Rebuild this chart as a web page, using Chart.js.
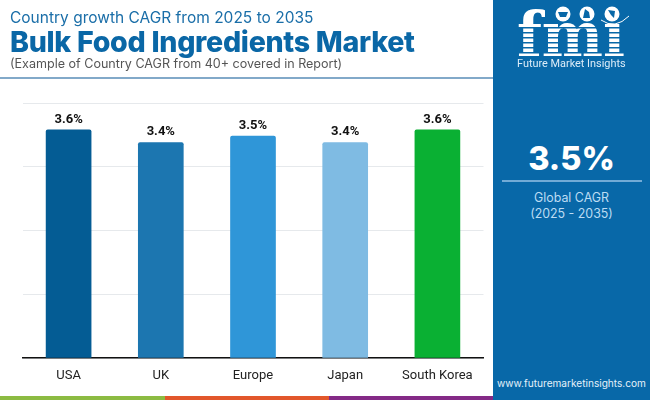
<!DOCTYPE html>
<html>
<head>
<meta charset="utf-8">
<title>Bulk Food Ingredients Market</title>
<script src="https://cdn.jsdelivr.net/npm/chart.js@4"></script>
<style>
  html, body { margin: 0; padding: 0; background: #fff; }
  #page { position: relative; width: 650px; height: 400px; overflow: hidden; background: #fff; }
  #page div { position: absolute; white-space: nowrap; }
  #myChart { position: absolute; left: 0; top: 0; }
  .head { font-family: Inter, "Open Sans", sans-serif; left: 10px; }
  #kicker { top: 8px; font-size: 15.5px; color: #1a6ea8; }
  #title { top: 24px; font-size: 28.6px; font-weight: 800; color: #0a67a6; letter-spacing: -0.3px; }
  #note { top: 56px; font-size: 12.55px; color: #555; }
  #rule { left: 0; top: 77px; width: 493px; height: 2px; background: #82a9c9; }
  #panel { left: 493px; top: 0; width: 157px; height: 400px; background: #0868a8; }
  #cagr { left: 493px; width: 143px; padding-left: 0; top: 139px; text-align: center; font-family: Inter, sans-serif; font-size: 32.5px; font-weight: 800; color: #fff; }
  #cagrRule { left: 502px; top: 180px; width: 140px; height: 2px; background: #72abd6; }
  .sub { left: 493px; width: 157px; text-align: center; font-family: Inter, sans-serif; font-size: 12.4px; color: #bcdcf3; }
  #site { left: 493px; width: 157px; top: 377px; text-align: center; font-family: Inter, sans-serif; font-size: 10.1px; color: #e4f1fa; }
  #brand { left: 517px; width: 108px; top: 57px; text-align: center; font-family: Roboto, sans-serif; font-size: 10.9px; color: #dcecf8; }
  .strip { top: 396px; height: 4px; }
</style>
</head>
<body>
<div id="page">
  <canvas id="myChart" width="493" height="396"></canvas>
  <div id="kicker" class="head">Country growth CAGR from 2025 to 2035</div>
  <div id="title" class="head">Bulk Food Ingredients Market</div>
  <div id="note" class="head">(Example of Country CAGR from 40+ covered in Report)</div>
  <div id="rule"></div>
  <div class="strip" style="left:0;width:165px;background:#8cbb42"></div>
  <div class="strip" style="left:165px;width:164px;background:#e2572b"></div>
  <div class="strip" style="left:329px;width:164px;background:#842a86"></div>
  <div id="panel"></div>
  <svg style="position:absolute;left:493px;top:0" width="157" height="60" viewBox="0 0 157 60">
    <text x="78" y="56" text-anchor="middle" font-family="DejaVu Serif" font-weight="bold" font-size="62" fill="#fff" textLength="108" lengthAdjust="spacingAndGlyphs">fmi</text>
    <g fill="#0868a8">
      <rect x="20" y="27" width="118" height="1.5"/>
      <rect x="20" y="32" width="118" height="1.5"/>
      <rect x="20" y="37" width="118" height="1.5"/>
      <rect x="20" y="42" width="118" height="1.5"/>
      <rect x="20" y="47" width="118" height="1.5"/>
      <rect x="20" y="52" width="118" height="1.5"/>
      <rect x="100" y="4" width="34" height="20"/>
    </g>
    <circle cx="70" cy="14" r="7.5" fill="#fff"/>
    <circle cx="94" cy="14" r="7.5" fill="#fff"/>
    <circle cx="119" cy="14" r="7.5" fill="#fff"/>
    <path d="M65 12h10l-2 5h-6zM92 9l4 3 1 6h-7zM115 10l7 1-1 7-3-3z" fill="#0868a8"/>
    <path d="M108 20q14 10 28-4" fill="none" stroke="#fff" stroke-width="1"/>
  </svg>
  <div id="brand">Future Market Insights</div>
  <div id="cagr" style="left:500px">3.5%</div>
  <div id="cagrRule"></div>
  <div class="sub" style="top:190px">Global CAGR</div>
  <div class="sub" style="top:206px">(2025 - 2035)</div>
  <div id="site">www.futuremarketinsights.com</div>
</div>
<script>
'use strict';
const categories = ['USA', 'UK', 'Europe', 'Japan', 'South Korea'];
const cagrValues = [3.58, 3.38, 3.48, 3.38, 3.58];
const barColors = ['#045c94', '#1c76b0', '#2f96d8', '#7fbbe3', '#0ab033'];
const yTicks = [0, 1, 2, 3, 4];

const valueLabels = {
    id: 'valueLabels',
    afterDatasetsDraw: function (chart) {
        const ctx = chart.ctx;
        const bars = chart.getDatasetMeta(0).data;
        ctx.save();
        ctx.font = 'bold 13px Roboto, sans-serif';
        ctx.fillStyle = '#111';
        ctx.textAlign = 'center';
        ctx.textBaseline = 'bottom';
        for (let i = 0; i < bars.length; i++) {
            ctx.fillText(cagrValues[i].toFixed(1) + '%', bars[i].x, bars[i].y - 4);
        }
        ctx.restore();
    }
};

new Chart(document.getElementById('myChart'), {
    type: 'bar',
    data: {
        labels: categories,
        datasets: [{
            data: cagrValues,
            backgroundColor: barColors,
            barThickness: 45,
            borderRadius: { topLeft: 2, topRight: 2 },
            borderSkipped: 'bottom',
        }]
    },
    options: {
        responsive: false,
        animation: false,
        layout: { padding: { left: 22.5, right: 9.5, top: 103, bottom: 0 } },
        plugins: { legend: { display: false }, tooltip: { enabled: false } },
        scales: {
            x: {
                grid: { display: false },
                border: { color: '#111', width: 1.5 },
                ticks: { color: '#222', font: { family: 'Roboto', size: 13 }, padding: 2, maxRotation: 0 },
                afterFit: function (scale) { scale.height = 38; }
            },
            y: {
                min: yTicks[0],
                max: yTicks[yTicks.length - 1],
                afterBuildTicks: function (scale) { scale.ticks = yTicks.map(function (v) { return { value: v }; }); },
                grid: { color: '#e6e9ec', lineWidth: 1, drawTicks: false },
                border: { display: false },
                ticks: { display: false },
                afterFit: function (scale) { scale.width = 0; }
            }
        }
    },
    plugins: [valueLabels]
});
</script>
</body>
</html>
